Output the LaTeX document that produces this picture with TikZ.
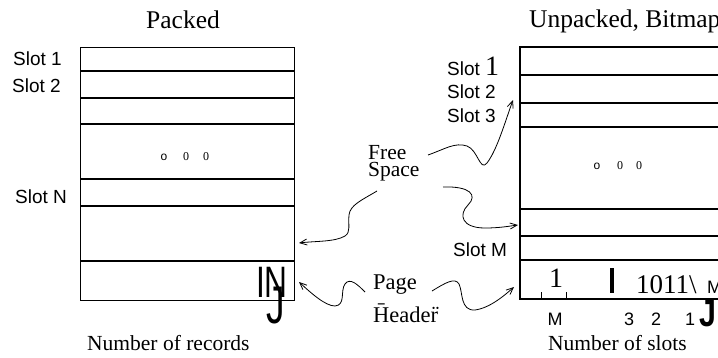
\documentclass[tikz,border=0pt]{standalone}
\usepackage{fontspec}
\setmainfont{Liberation Serif}
\newfontfamily\arialf{Liberation Sans}
\usetikzlibrary{arrows.meta}
\begin{document}
\begin{tikzpicture}[x=1pt,y=-1pt,
  outer/.style={line width=1.3pt},
  sep/.style={line width=1.1pt},
  serif/.style={font=\fontsize{21.5}{24}\selectfont, inner sep=0pt},
  title/.style={font=\fontsize{25.5}{28}\selectfont, inner sep=0pt},
  sans/.style={font=\arialf\fontsize{19}{22}\selectfont, inner sep=0pt},
  small/.style={font=\arialf\fontsize{18}{20}\selectfont, inner sep=0pt},
  dots/.style={inner sep=0pt},
  wiggle/.style={line width=0.8pt, -{Straight Barb[length=7pt,width=6pt]}}
]
\useasboundingbox (0,0) rectangle (718,357);
\clip (0,0) rectangle (718,357);

% ---------- left (packed) page ----------
\node[outer, draw, anchor=north west, minimum width=214pt, minimum height=253pt, inner sep=0pt] (lbox) at (80,47) {};
\foreach \yy in {71,98,124,179,206,261} \draw[sep] (80,\yy) -- (294,\yy);
\node[title, anchor=base] (packed) at (183,28) {Packed};
\node[sans, anchor=base west] (ls1) at (13,65) {Slot 1};
\node[sans, anchor=base west] (ls2) at (12,92) {Slot 2};
\node[sans, anchor=base west] (lsn) at (15,203) {Slot N};
\node[dots, font=\arialf\fontsize{12}{12}\selectfont] (ldo) at (164,157) {o};
\node[dots, font=\fontsize{12}{12}\selectfont] (ld1) at (186,157) {0};
\node[dots, font=\fontsize{12}{12}\selectfont] (ld2) at (206,157) {0};
\node[inner sep=0pt, anchor=base west, xscale=0.72, font=\arialf\fontsize{44}{44}\selectfont] (lin) at (256,297) {IN};
\node[inner sep=0pt, anchor=base west, xscale=0.7, font=\arialf\fontsize{53}{53}\selectfont] (lj) at (266,323) {J};
\node[serif, anchor=base west] (nrec) at (87,350) {Number of records};

% ---------- right (unpacked, bitmap) page ----------
\draw[outer] (730,47) -- (520,47) -- (520,299) -- (730,299);
\foreach \yy in {75,103,127,209,236,260} \draw[sep] (520,\yy) -- (730,\yy);
\node[title, anchor=base west] (unp) at (529,27) {Unpacked, Bitmap};
\node[sans, anchor=base west] (rs1) at (447,75) {Slot {\rmfamily\fontsize{28}{28}\selectfont 1}};
\node[sans, anchor=base west] (rs2) at (447,98) {Slot 2};
\node[sans, anchor=base west] (rs3) at (447,122) {Slot 3};
\node[sans, anchor=base west] (rsm) at (453,256) {Slot M};
\node[dots, font=\arialf\fontsize{12}{12}\selectfont] (rdo) at (597,166) {o};
\node[dots, font=\fontsize{12}{12}\selectfont] (rd1) at (620,166) {0};
\node[dots, font=\fontsize{12}{12}\selectfont] (rd2) at (639,166) {0};
% bitmap row
\node[inner sep=0pt, anchor=base, font=\fontsize{28}{28}\selectfont] (bone) at (556,287) {1};
\draw[line width=0.8pt] (541,292) -- (541,299);
\draw[line width=0.8pt] (566,292) -- (566,299);
\fill (609.5,268) rectangle (614,293);
\node[inner sep=0pt, anchor=base west, font=\fontsize{27}{27}\selectfont] (bits) at (636,293) {1011\textbackslash};
\node[inner sep=0pt, anchor=base west, font=\arialf\fontsize{18}{18}\selectfont] (bm) at (707,293) {M};
\node[small, anchor=base] (cm) at (555,325) {M};
\node[small, anchor=base] (c3) at (629,325) {3};
\node[small, anchor=base] (c2) at (656,325) {2};
\node[small, anchor=base] (c1) at (690,325) {1};
\node[inner sep=0pt, anchor=base west, xscale=0.8, font=\arialf\bfseries\fontsize{38}{38}\selectfont] (rj) at (699,326) {J};
\node[serif, anchor=base west] (nslot) at (548,350) {Number of slots};

% ---------- middle labels ----------
\node[serif, anchor=base west] (free) at (368,159) {Free};
\node[serif, anchor=base west] (space) at (368,176) {Space};
\node[serif, anchor=base west, font=\fontsize{22.5}{24}\selectfont] (page) at (373,289) {Page};
\node[serif, anchor=base west, font=\fontsize{22.5}{24}\selectfont] (header) at (373,322) {\=Heade\"r};

% connector ends
\coordinate (f1s) at (428,155);
\coordinate (f1e) at (513,100);
\coordinate (f2s) at (377,191);
\coordinate (f2e) at (299,243);
\coordinate (f3s) at (443,187);
\coordinate (f3e) at (518,225);
\coordinate (p1s) at (365,292);
\coordinate (p1e) at (299,282);
\coordinate (p2s) at (432,291);
\coordinate (p2e) at (514,287);

\draw[wiggle] (f1s) .. controls (445,149) and (455,142) .. (467,146)
  .. controls (478,150) and (480,172) .. (487,163)
  .. controls (497,150) and (505,122) .. (f1e);
\draw[wiggle] (f2s) .. controls (362,200) and (350,205) .. (349,215)
  .. controls (348,225) and (351,232) .. (345,236)
  .. controls (335,242) and (315,241) .. (f2e);
\draw[wiggle] (f3s) .. controls (470,186) and (478,195) .. (468,205)
  .. controls (458,215) and (462,228) .. (485,228)
  .. controls (500,228) and (510,226) .. (f3e);
\draw[wiggle] (p1s) .. controls (358,285) and (350,277) .. (345,284)
  .. controls (340,291) and (346,305) .. (335,306)
  .. controls (325,306) and (310,292) .. (p1e);
\draw[wiggle] (p2s) .. controls (445,283) and (455,277) .. (459,284)
  .. controls (463,292) and (460,311) .. (475,310)
  .. controls (490,308) and (505,295) .. (p2e);
\end{tikzpicture}
\end{document}
